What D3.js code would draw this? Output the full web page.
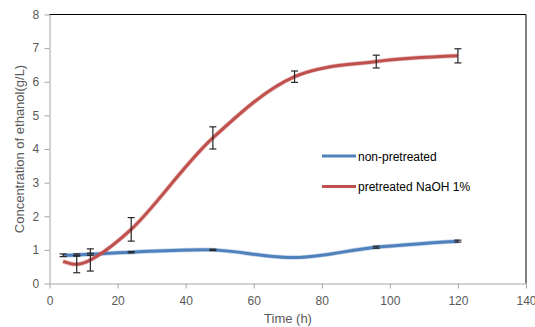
<!DOCTYPE html>
<html><head><meta charset="utf-8">
<script src="https://cdn.jsdelivr.net/npm/d3@7"></script>
<style>body{margin:0;background:#fff}svg{display:block;font-family:"Liberation Sans",Arial,sans-serif}</style>
</head><body><svg id="c" width="535" height="327"></svg>
<script>
const times = [4, 8, 12, 24, 48, 72, 96, 120];
const nonPretreated = [0.84, 0.85, 0.87, 0.93, 1.0, 0.77, 1.08, 1.26];
const nonPretreatedErr = [0.04, 0.03, 0.03, 0.02, 0.02, 0.0, 0.03, 0.03];
const pretreated = [0.66, 0.57, 0.70, 1.61, 4.33, 6.15, 6.60, 6.77];
const pretreatedErr = [0.0, 0.25, 0.33, 0.35, 0.33, 0.17, 0.19, 0.21];
const xTicks = [0, 20, 40, 60, 80, 100, 120, 140];
const yTicks = [0, 1, 2, 3, 4, 5, 6, 7, 8];
const seriesNames = ["non-pretreated", "pretreated NaOH 1%"];

const svg = d3.select("#c");
const L = 49.5, R = 526, T = 14.5, B = 283.5;
const x = d3.scaleLinear().domain([0, 140]).range([L, R]);
const y = d3.scaleLinear().domain([0, 8]).range([B, T]);
const gray = "#595959";

// plot border top/right
svg.append("path").attr("d", `M${L},${T}H${R}V${B}`).attr("fill","none").attr("stroke","#000").attr("stroke-width",1);

const xa = svg.append("g").attr("transform",`translate(0,${B})`)
  .call(d3.axisBottom(x).tickValues(xTicks).tickSize(5).tickSizeOuter(0));
const ya = svg.append("g").attr("transform",`translate(${L},0)`)
  .call(d3.axisLeft(y).tickValues(yTicks).tickSize(5).tickSizeOuter(0));
[xa, ya].forEach(a => {
  a.select(".domain").attr("stroke","#a6a6a6");
  a.selectAll(".tick line").attr("stroke","#a6a6a6");
  a.selectAll(".tick text").attr("fill", gray).attr("font-size", 12).attr("font-family","Liberation Sans, Arial, sans-serif");
});
xa.selectAll(".tick text").attr("dy","1.1em");
ya.selectAll(".tick text").attr("dx","-0.2em");

const line = d3.line().x(d => x(d[0])).y(d => y(d[1])).curve(d3.curveCatmullRom.alpha(0.5));
const series = [
  {v: nonPretreated, e: nonPretreatedErr, c: "#4F81BD"},
  {v: pretreated, e: pretreatedErr, c: "#C0504D"}
];
series.forEach(s => {
  const pts = times.map((t,i) => [t, s.v[i]]);
  svg.append("path").attr("d", line(pts)).attr("fill","none").attr("stroke", s.c).attr("stroke-width", 3).attr("stroke-opacity",0.35).attr("stroke-width",4.5);
  svg.append("path").attr("d", line(pts)).attr("fill","none").attr("stroke", s.c).attr("stroke-width", 3);
});
series.forEach(s => {
  const g = svg.append("g").attr("stroke","#262626").attr("stroke-width",1.2);
  times.forEach((t,i) => {
    if (s.e[i] <= 0) return;
    const cx = x(t), y1 = y(s.v[i] + s.e[i]), y2 = y(s.v[i] - s.e[i]);
    g.append("line").attr("x1",cx).attr("x2",cx).attr("y1",y1).attr("y2",y2);
    g.append("line").attr("x1",cx-3.5).attr("x2",cx+3.5).attr("y1",y1).attr("y2",y1);
    g.append("line").attr("x1",cx-3.5).attr("x2",cx+3.5).attr("y1",y2).attr("y2",y2);
  });
});

// legend
const lg = svg.append("g");
seriesNames.forEach((n,i) => {
  const ly = 156 + i*30.5;
  lg.append("line").attr("x1",322).attr("x2",356).attr("y1",ly).attr("y2",ly).attr("stroke",series[i].c).attr("stroke-width",3);
  lg.append("text").attr("x",358).attr("y",ly+4.5).attr("font-size",12).attr("fill","#000").text(n);
});

svg.append("text").attr("x",288).attr("y",323).attr("text-anchor","middle").attr("font-size",13).attr("fill",gray).text("Time  (h)");
svg.append("text").attr("transform","translate(24,149) rotate(-90)").attr("text-anchor","middle").attr("font-size",13).attr("fill",gray).text("Concentration of ethanol(g/L)");
</script></body></html>
